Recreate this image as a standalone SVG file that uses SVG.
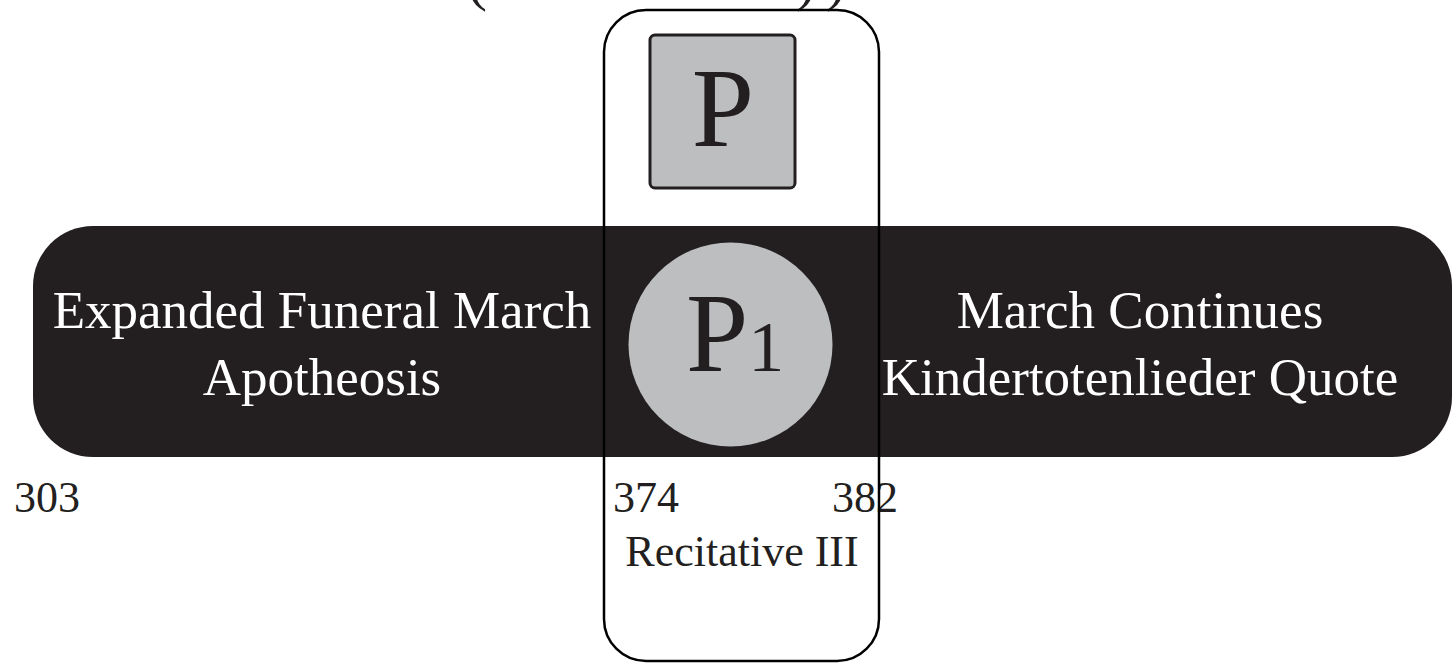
<svg xmlns="http://www.w3.org/2000/svg" width="1452" height="663" viewBox="0 0 1452 663">
  <style>
    text { font-family: "Liberation Serif", "DejaVu Serif", serif; }
    .ink { fill: #231f20; }
    .light { fill: #ffffff; }
    .mid { text-anchor: middle; }
    .bar-label { font-size: 53px; }
    .num { font-size: 44px; }
    .theme { font-size: 112px; }
  </style>

  <!-- partial bracket caption above the frame -->
  <g id="caption">
    <text class="ink" x="467" y="-1" font-size="60">(</text>
    <text class="ink" x="796" y="-1" font-size="60">)</text>
    <text class="ink" x="826" y="-1" font-size="60">)</text>
  </g>

  <!-- main section bar -->
  <g id="section-bar">
    <rect x="33" y="226" width="1419" height="231" rx="60" ry="60" fill="#231f20"/>
    <text class="light mid bar-label" x="322" y="328">Expanded Funeral March</text>
    <text class="light mid bar-label" x="322" y="395">Apotheosis</text>
    <text class="light mid bar-label" x="1140" y="328">March Continues</text>
    <text class="light mid bar-label" x="1140" y="395">Kindertotenlieder Quote</text>
  </g>

  <!-- theme P (square) -->
  <g id="theme-p">
    <rect x="650" y="35" width="145" height="153" rx="5" ry="5" fill="#bcbec0" stroke="#231f20" stroke-width="3"/>
    <text class="ink mid theme" x="723" y="146">P</text>
  </g>

  <!-- theme P1 (circle) -->
  <g id="theme-p1">
    <circle cx="730.5" cy="344.5" r="102" fill="#bcbec0"/>
    <text class="ink theme" x="686" y="371">P<tspan font-size="72">1</tspan></text>
  </g>

  <!-- measure numbers -->
  <g id="measures">
    <text class="ink num" x="14" y="512">303</text>
    <text class="ink num" x="613" y="512">374</text>
    <text class="ink num" x="832" y="512">382</text>
  </g>

  <!-- recitative frame -->
  <g id="recitative">
    <rect x="604" y="10" width="275" height="651" rx="42" ry="42" fill="none" stroke="#000000" stroke-width="2.5"/>
    <text class="ink mid num" x="742" y="566" font-size="45">Recitative III</text>
  </g>

  <g id="connectors"></g>
</svg>
